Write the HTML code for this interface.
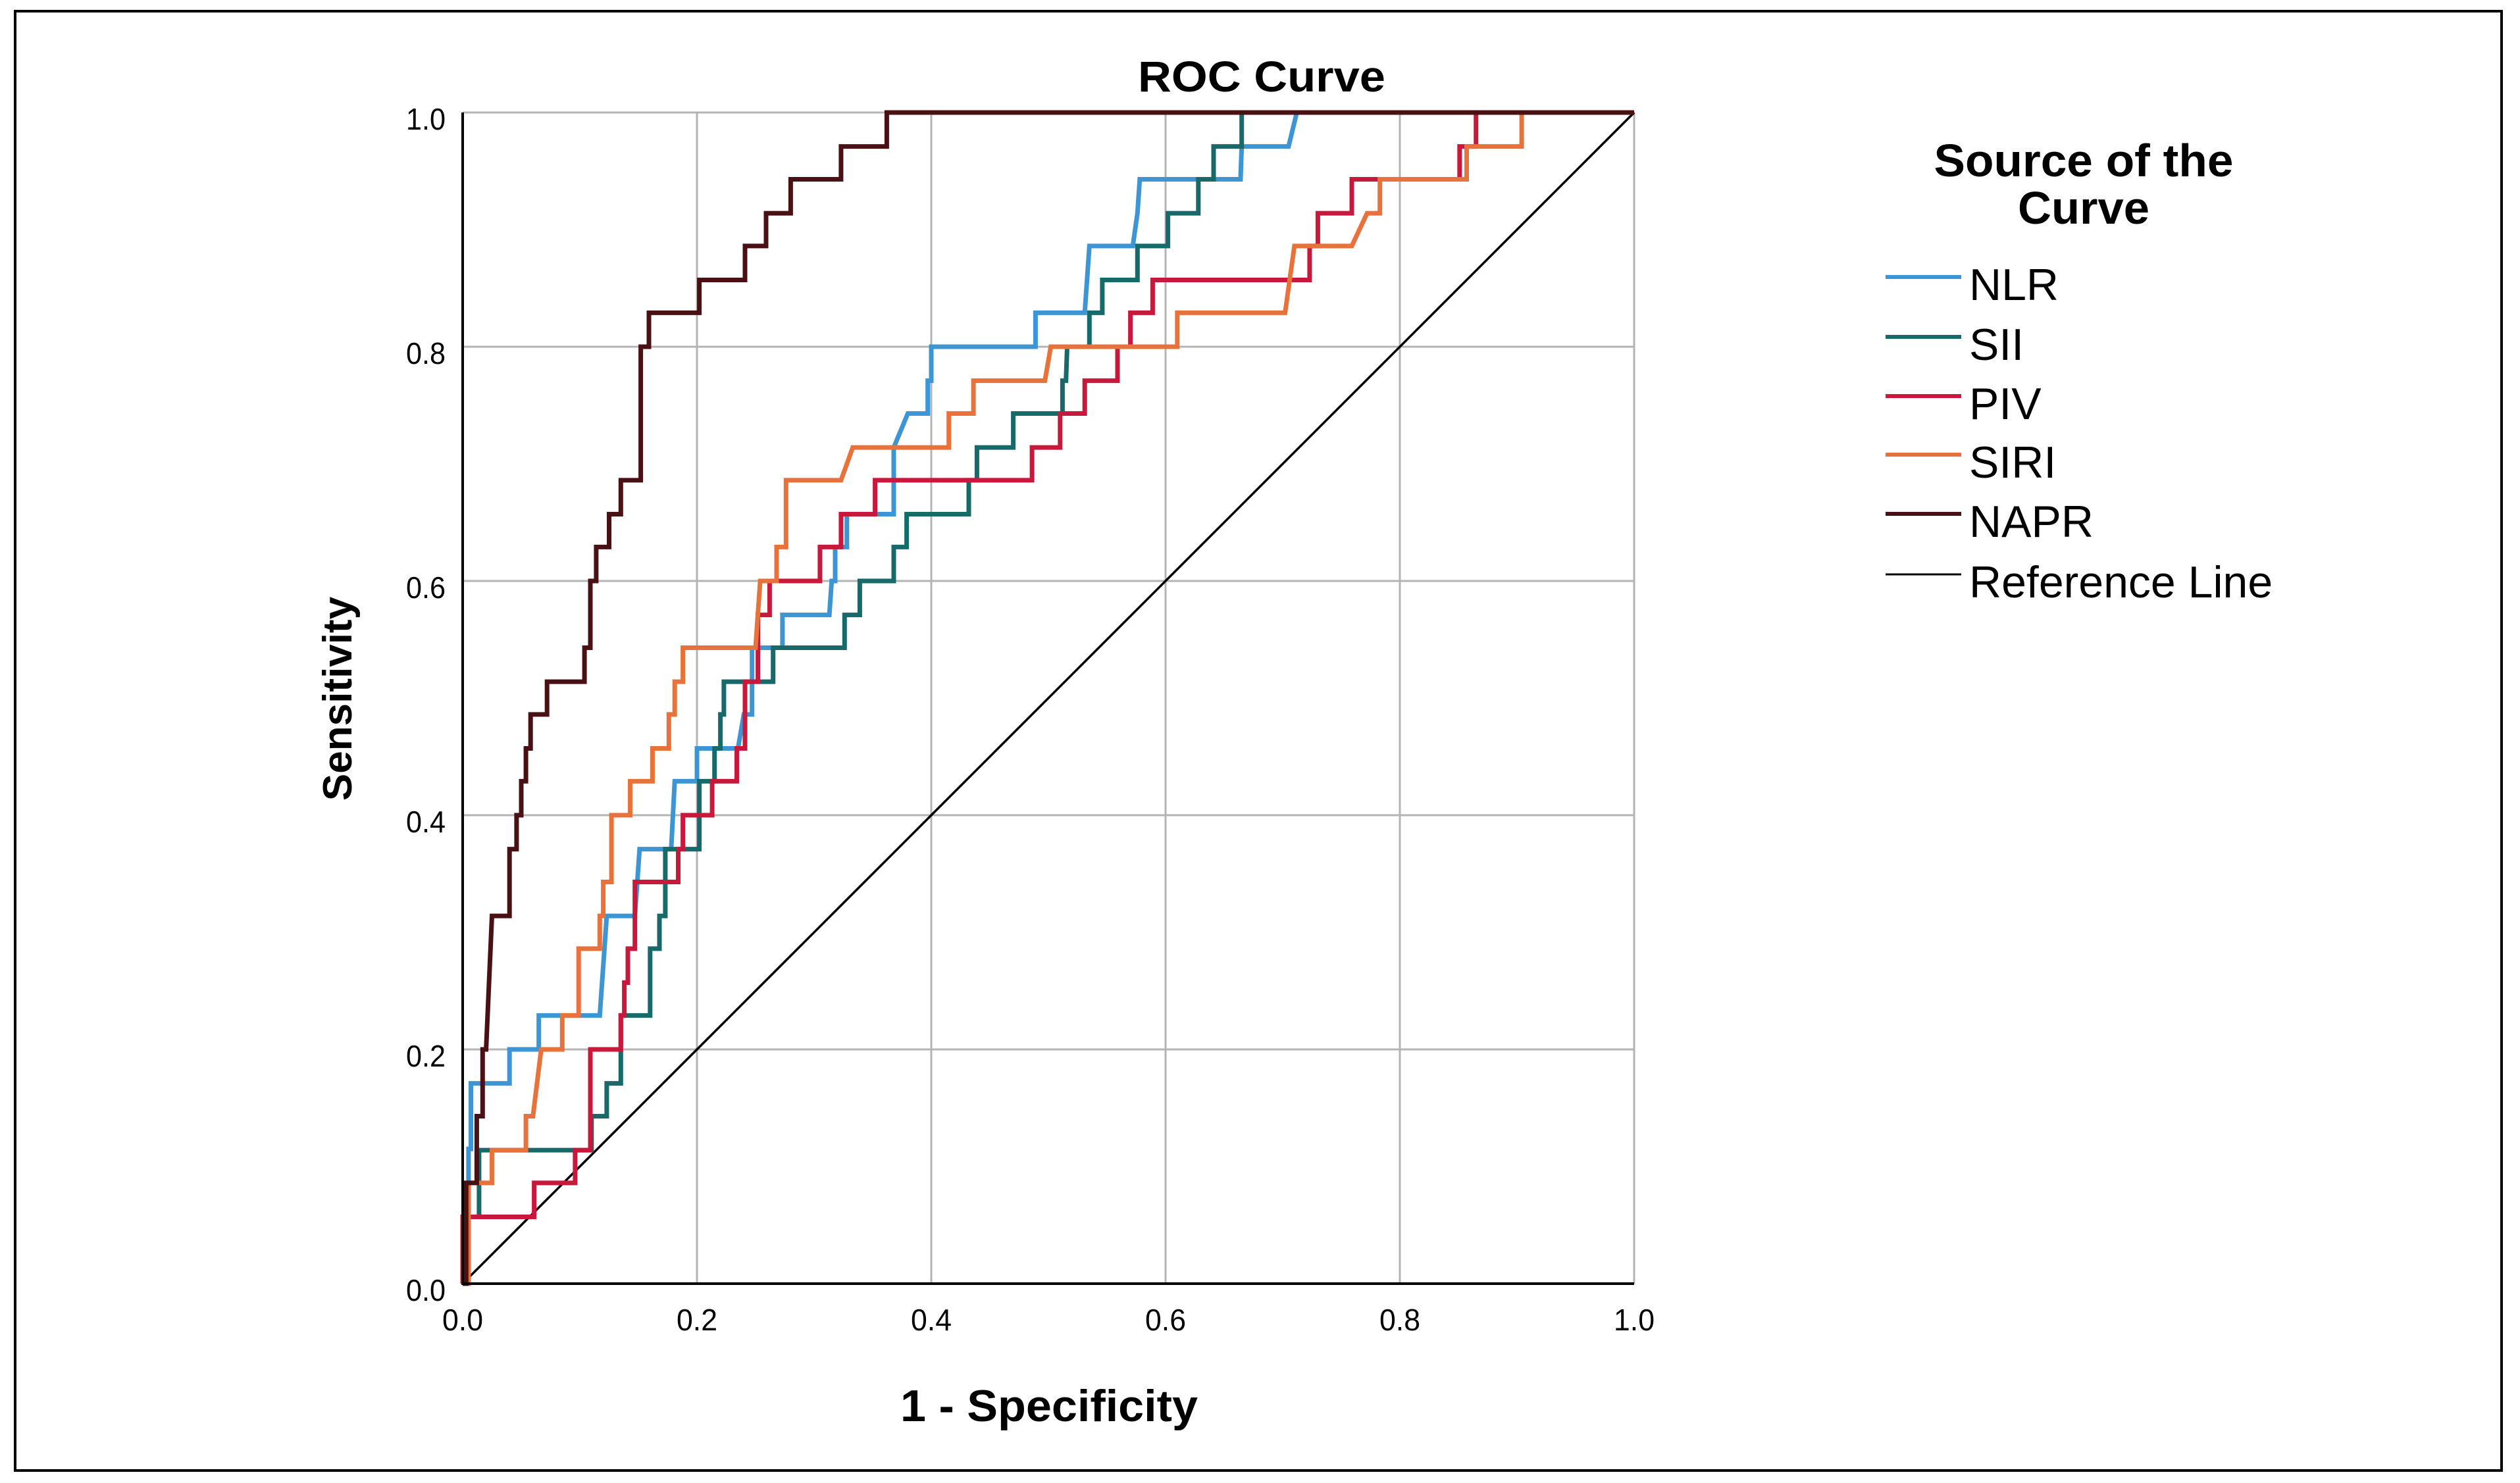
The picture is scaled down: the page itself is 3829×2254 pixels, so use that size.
<!DOCTYPE html>
<html><head><meta charset="utf-8">
<style>
html,body{margin:0;padding:0;background:#fff;}
svg{display:block;}
text{font-family:"Liberation Sans",Arial,sans-serif;fill:#000;}
</style></head>
<body>
<svg id="chart" xmlns="http://www.w3.org/2000/svg" width="3829" height="2254" viewBox="0 0 3829 2254">
  <rect x="23" y="17" width="3778" height="2218" fill="#fff" stroke="#000" stroke-width="4"/>
  <g id="grid"></g>
  <g id="series"></g>
  <g id="axes"></g>
  <text x="1917" y="139" font-size="66" font-weight="bold" text-anchor="middle" textLength="376" lengthAdjust="spacingAndGlyphs">ROC Curve</text>
  <text x="1594" y="2160" font-size="68" font-weight="bold" text-anchor="middle" textLength="452" lengthAdjust="spacingAndGlyphs">1 - Specificity</text>
  <text x="0" y="0" font-size="62" font-weight="bold" text-anchor="middle" transform="translate(534,1062) rotate(-90)">Sensitivity</text>
  <g id="legend">
    <text x="3166" y="268" font-size="70" font-weight="bold" text-anchor="middle" textLength="455" lengthAdjust="spacingAndGlyphs">Source of the</text>
    <text x="3166" y="340" font-size="70" font-weight="bold" text-anchor="middle" textLength="200" lengthAdjust="spacingAndGlyphs">Curve</text>
  </g>
</svg>
<script>
const xTicks = [0, 0.2, 0.4, 0.6, 0.8, 1.0];
const yTicks = [0, 0.2, 0.4, 0.6, 0.8, 1.0];
const tickLabels = ["0.0", "0.2", "0.4", "0.6", "0.8", "1.0"];
const seriesNames = ["NLR", "SII", "PIV", "SIRI", "NAPR"];
const seriesColors = ["#3d95d3", "#17696a", "#c8193c", "#e8723c", "#4a1115"];

const nlrX = [0,0.005,0.005,0.007,0.007,0.04,0.04,0.065,0.065,0.117,0.123,0.147,0.151,0.178,0.181,0.2,0.2,0.235,0.24,0.247,0.247,0.273,0.273,0.313,0.315,0.318,0.318,0.328,0.328,0.368,0.368,0.38,0.397,0.397,0.4,0.4,0.489,0.489,0.531,0.535,0.572,0.576,0.578,0.664,0.665,0.705,0.712,1];
const nlrY = [0,0,0.115,0.115,0.171,0.171,0.2,0.2,0.229,0.229,0.314,0.314,0.371,0.371,0.429,0.429,0.457,0.457,0.486,0.486,0.543,0.543,0.571,0.571,0.6,0.6,0.629,0.629,0.657,0.657,0.714,0.743,0.743,0.771,0.771,0.8,0.8,0.829,0.829,0.886,0.886,0.914,0.943,0.943,0.971,0.971,1,1];

const siiX = [0,0,0.014,0.014,0.11,0.11,0.123,0.123,0.135,0.135,0.16,0.16,0.168,0.168,0.173,0.173,0.202,0.202,0.215,0.215,0.22,0.22,0.223,0.223,0.265,0.265,0.326,0.326,0.339,0.339,0.368,0.368,0.379,0.379,0.432,0.432,0.439,0.439,0.47,0.47,0.512,0.512,0.515,0.516,0.535,0.535,0.546,0.546,0.576,0.576,0.602,0.602,0.628,0.628,0.641,0.641,0.665,0.665,1];
const siiY = [0,0.057,0.057,0.114,0.114,0.143,0.143,0.171,0.171,0.229,0.229,0.286,0.286,0.314,0.314,0.371,0.371,0.429,0.429,0.457,0.457,0.486,0.486,0.514,0.514,0.543,0.543,0.571,0.571,0.6,0.6,0.629,0.629,0.657,0.657,0.686,0.686,0.714,0.714,0.743,0.743,0.771,0.771,0.8,0.8,0.829,0.829,0.857,0.857,0.886,0.886,0.914,0.914,0.943,0.943,0.971,0.971,1,1];

const pivX = [0,0,0.061,0.061,0.096,0.096,0.109,0.109,0.135,0.135,0.138,0.138,0.141,0.141,0.147,0.147,0.184,0.184,0.188,0.188,0.213,0.213,0.234,0.234,0.241,0.241,0.252,0.252,0.262,0.262,0.305,0.305,0.323,0.323,0.352,0.352,0.486,0.486,0.51,0.51,0.531,0.531,0.559,0.559,0.57,0.57,0.589,0.589,0.723,0.723,0.73,0.73,0.759,0.759,0.851,0.851,0.865,0.865,1];
const pivY = [0,0.057,0.057,0.086,0.086,0.114,0.114,0.2,0.2,0.229,0.229,0.257,0.257,0.286,0.286,0.343,0.343,0.371,0.371,0.4,0.4,0.429,0.429,0.457,0.457,0.514,0.514,0.571,0.571,0.6,0.6,0.629,0.629,0.657,0.657,0.686,0.686,0.714,0.714,0.743,0.743,0.771,0.771,0.8,0.8,0.829,0.829,0.857,0.857,0.886,0.886,0.914,0.914,0.943,0.943,0.971,0.971,1,1];

const siriX = [0,0.005,0.005,0.025,0.025,0.054,0.054,0.06,0.067,0.085,0.085,0.099,0.099,0.117,0.117,0.12,0.12,0.127,0.127,0.143,0.143,0.162,0.162,0.176,0.176,0.181,0.181,0.188,0.188,0.25,0.254,0.268,0.268,0.276,0.276,0.323,0.333,0.415,0.415,0.436,0.436,0.497,0.502,0.61,0.61,0.702,0.71,0.759,0.772,0.783,0.783,0.857,0.857,0.904,0.904,1];
const siriY = [0,0,0.086,0.086,0.114,0.114,0.143,0.143,0.2,0.2,0.229,0.229,0.286,0.286,0.314,0.314,0.343,0.343,0.4,0.4,0.429,0.429,0.457,0.457,0.486,0.486,0.514,0.514,0.543,0.543,0.6,0.6,0.629,0.629,0.686,0.686,0.714,0.714,0.743,0.743,0.771,0.771,0.8,0.8,0.829,0.829,0.886,0.886,0.914,0.914,0.943,0.943,0.971,0.971,1,1];

const naprX = [0,0.003,0.003,0.012,0.012,0.017,0.017,0.02,0.025,0.025,0.04,0.04,0.046,0.046,0.05,0.05,0.054,0.054,0.058,0.058,0.072,0.072,0.104,0.104,0.109,0.109,0.114,0.114,0.125,0.125,0.135,0.135,0.152,0.152,0.159,0.159,0.202,0.202,0.241,0.241,0.259,0.259,0.28,0.28,0.323,0.323,0.362,0.362,1];
const naprY = [0,0,0.086,0.086,0.143,0.143,0.2,0.2,0.314,0.314,0.314,0.371,0.371,0.4,0.4,0.429,0.429,0.457,0.457,0.486,0.486,0.514,0.514,0.543,0.543,0.6,0.6,0.629,0.629,0.657,0.657,0.686,0.686,0.8,0.8,0.829,0.829,0.857,0.857,0.886,0.886,0.914,0.914,0.943,0.943,0.971,0.971,1,1];

const seriesXs = [nlrX, siiX, pivX, siriX, naprX];
const seriesYs = [nlrY, siiY, pivY, siriY, naprY];

const NS = "http://www.w3.org/2000/svg";
const X0 = 703, X1 = 2483, Y0 = 1951, Y1 = 171;
function sx(v){ return X0 + v * (X1 - X0); }
function sy(v){ return Y0 - v * (Y0 - Y1); }

const grid = document.getElementById('grid');
xTicks.forEach(function(t, i){
  const l = document.createElementNS(NS, 'line');
  
  
  l.setAttribute('x1', sx(t)); l.setAttribute('x2', sx(t));
  l.setAttribute('y1', sy(0)); l.setAttribute('y2', sy(1));
  l.setAttribute('stroke', '#b4b4b4'); l.setAttribute('stroke-width', '3');
  grid.appendChild(l);
});
yTicks.forEach(function(t){
  const l = document.createElementNS(NS, 'line');
  
  
  l.setAttribute('x1', sx(0)); l.setAttribute('x2', sx(1));
  l.setAttribute('y1', sy(t)); l.setAttribute('y2', sy(t));
  l.setAttribute('stroke', '#b4b4b4'); l.setAttribute('stroke-width', '3');
  grid.appendChild(l);
});

const series = document.getElementById('series');
const ref = document.createElementNS(NS, 'line');


ref.setAttribute('x1', sx(0)); ref.setAttribute('y1', sy(0));
ref.setAttribute('x2', sx(1)); ref.setAttribute('y2', sy(1));
ref.setAttribute('stroke', '#000'); ref.setAttribute('stroke-width', '3.5');
series.appendChild(ref);

seriesNames.forEach(function(name, k){
  const xs = seriesXs[k], ys = seriesYs[k];
  let d = '';
  for (let i = 0; i < xs.length; i++) {
    d += (i ? 'L' : 'M') + sx(xs[i]).toFixed(1) + ' ' + sy(ys[i]).toFixed(1);
  }
  const p = document.createElementNS(NS, 'path');
  
  
  p.setAttribute('d', d);
  p.setAttribute('fill', 'none');
  p.setAttribute('stroke', seriesColors[k]);
  p.setAttribute('stroke-width', '7');
  p.setAttribute('stroke-linejoin', 'miter');
  series.appendChild(p);
});

const axes = document.getElementById('axes');
const ax = document.createElementNS(NS, 'path');


ax.setAttribute('d', 'M' + sx(0) + ' ' + sy(1) + 'L' + sx(0) + ' ' + sy(0) + 'L' + sx(1) + ' ' + sy(0));
ax.setAttribute('fill', 'none'); ax.setAttribute('stroke', '#000'); ax.setAttribute('stroke-width', '4');
axes.appendChild(ax);

xTicks.forEach(function(t, i){
  const tx = document.createElementNS(NS, 'text');
  
  
  tx.setAttribute('x', sx(t)); tx.setAttribute('y', 2022);
  tx.setAttribute('font-size', '46'); tx.setAttribute('text-anchor', 'middle');
  tx.setAttribute('textLength', '62'); tx.setAttribute('lengthAdjust', 'spacingAndGlyphs');
  tx.textContent = tickLabels[i];
  axes.appendChild(tx);
});
yTicks.forEach(function(t, i){
  const ty = document.createElementNS(NS, 'text');
  
  
  ty.setAttribute('x', 677); ty.setAttribute('y', sy(t) + 26);
  ty.setAttribute('font-size', '46'); ty.setAttribute('text-anchor', 'end');
  ty.setAttribute('textLength', '60'); ty.setAttribute('lengthAdjust', 'spacingAndGlyphs');
  ty.textContent = tickLabels[i];
  axes.appendChild(ty);
});

const legend = document.getElementById('legend');
const legNames = seriesNames.concat(['Reference Line']);
const legColors = seriesColors.concat(['#000']);
const legYs = [421, 512, 602, 691, 781, 873];
legNames.forEach(function(name, i){
  const l = document.createElementNS(NS, 'line');
  
  
  l.setAttribute('x1', 2865); l.setAttribute('x2', 2980);
  l.setAttribute('y1', legYs[i]); l.setAttribute('y2', legYs[i]);
  l.setAttribute('stroke', legColors[i]);
  l.setAttribute('stroke-width', i === 5 ? '3' : '6');
  legend.appendChild(l);
  const t = document.createElementNS(NS, 'text');
  
  
  t.setAttribute('x', 2992); t.setAttribute('y', legYs[i] + 35);
  t.setAttribute('font-size', '68');
  t.textContent = name;
  legend.appendChild(t);
});
</script>
</body></html>
